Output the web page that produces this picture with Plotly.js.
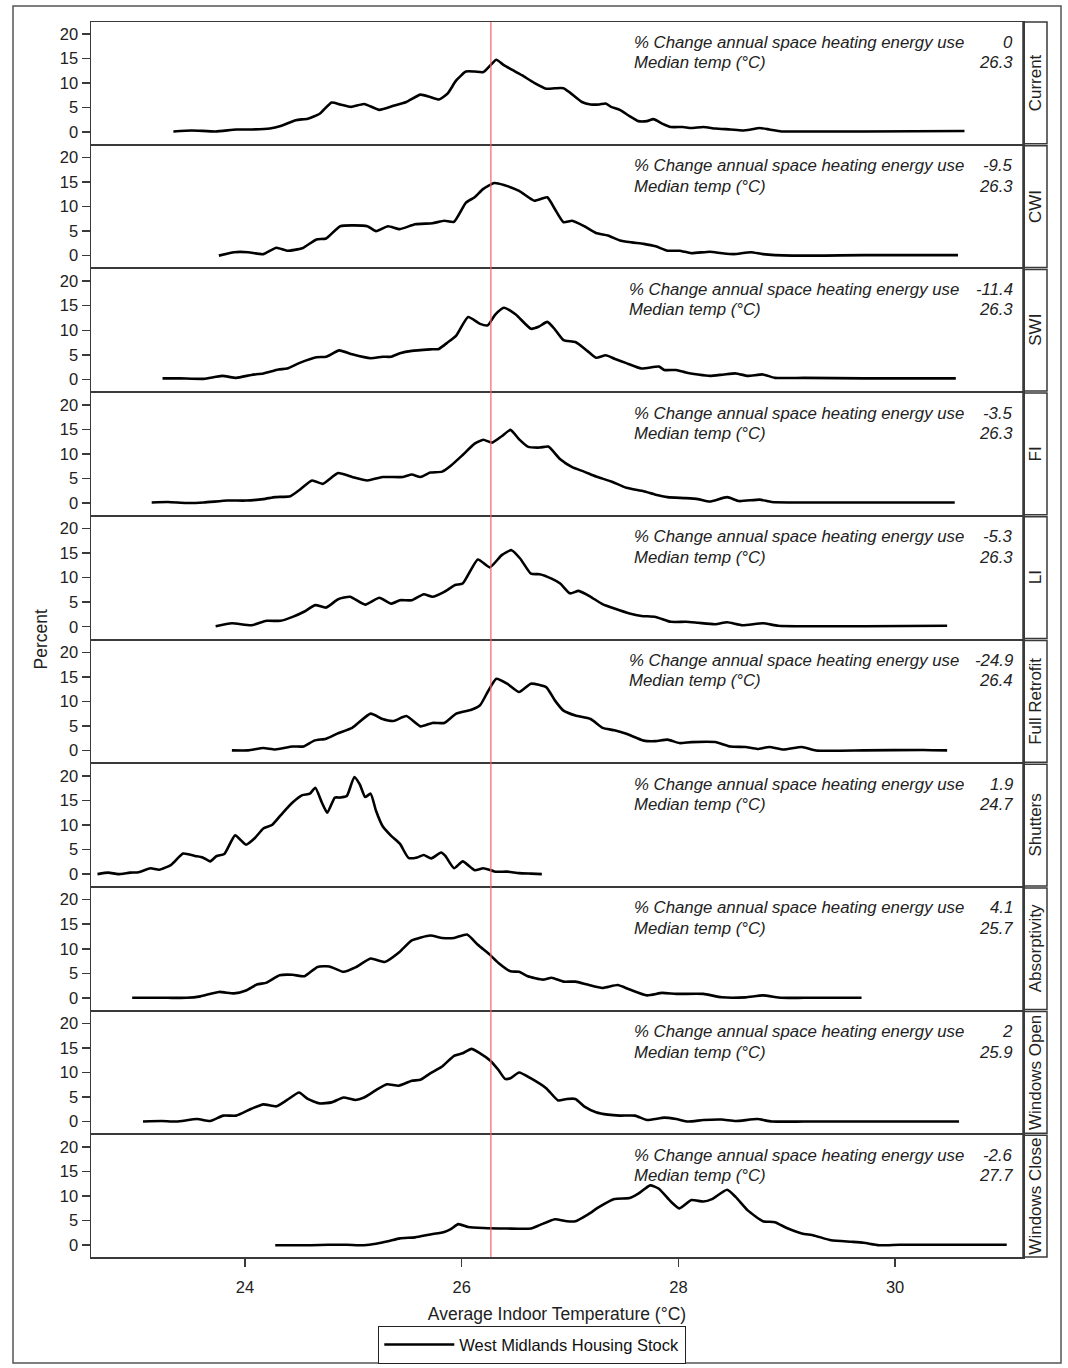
<!DOCTYPE html>
<html><head><meta charset="utf-8">
<script src="https://cdn.plot.ly/plotly-3.0.1.min.js"></script>
<style>html,body{margin:0;padding:0;background:#fff}#chart{width:1068px;height:1368px}</style>
</head><body><div id="chart"></div><script>
// ---------- DATA ----------
const scenarios = ['Current','CWI','SWI','FI','LI','Full Retrofit','Shutters','Absorptivity','Windows Open','Windows Close'];
const changeValues = ['0','-9.5','-11.4','-3.5','-5.3','-24.9','1.9','4.1','2','-2.6'];
const medianTemps = ['26.3','26.3','26.3','26.3','26.3','26.4','24.7','25.7','25.9','27.7'];
const referenceMedian = 26.27;
const xTicks = [24,26,28,30];
const yTicks = [0,5,10,15,20];
const seriesName = 'West Midlands Housing Stock';

const currentTemp = [23.34,23.51,23.73,23.92,24.06,24.23,24.33,24.47,24.58,24.69,24.80,24.88,24.98,25.10,25.24,25.38,25.49,25.62,25.71,25.79,25.87,25.95,26.04,26.12,26.20,26.27,26.32,26.39,26.48,26.56,26.67,26.78,26.86,26.94,27.00,27.11,27.19,27.27,27.33,27.38,27.46,27.55,27.63,27.71,27.77,27.85,27.93,28.04,28.12,28.23,28.34,28.48,28.59,28.67,28.75,28.84,28.95,29.16,29.71,30.64];
const currentPct = [0.1,0.3,0.1,0.5,0.5,0.7,1.2,2.4,2.7,3.7,6.0,5.6,5.1,5.7,4.5,5.4,6.1,7.6,7.1,6.6,7.8,10.5,12.3,12.3,12.2,13.7,14.7,13.6,12.5,11.5,10.0,8.8,8.9,8.9,8.0,6.1,5.6,5.6,5.8,5.1,4.5,3.2,2.2,2.2,2.6,1.7,1.0,1.0,0.8,1.0,0.7,0.5,0.3,0.5,0.8,0.5,0.1,0.1,0.1,0.2];

const cwiTemp = [23.76,23.90,24.03,24.17,24.29,24.39,24.53,24.66,24.75,24.88,25.13,25.21,25.32,25.43,25.57,25.73,25.84,25.93,26.04,26.12,26.20,26.30,26.39,26.53,26.67,26.79,26.86,26.94,27.02,27.13,27.24,27.35,27.46,27.57,27.68,27.79,27.90,28.01,28.12,28.29,28.40,28.51,28.67,28.78,29.05,29.71,30.58];
const cwiPct = [0,0.7,0.7,0.3,1.6,1.0,1.5,3.3,3.5,6.0,6.0,5.0,6.0,5.4,6.4,6.6,7.1,6.9,10.8,11.9,13.6,14.8,14.4,13.2,11.2,11.9,9.5,6.8,7.1,6.0,4.6,4.1,3.1,2.7,2.4,1.9,1.0,1.0,0.5,0.8,0.5,0.3,0.7,0.3,0.0,0.1,0.1];

const swiTemp = [23.24,23.40,23.62,23.79,23.92,24.06,24.17,24.31,24.39,24.50,24.66,24.75,24.87,24.99,25.16,25.27,25.35,25.43,25.54,25.71,25.79,25.87,25.95,26.06,26.17,26.24,26.31,26.39,26.50,26.64,26.71,26.79,26.86,26.94,27.05,27.16,27.24,27.33,27.41,27.52,27.66,27.82,27.87,27.98,28.07,28.18,28.29,28.42,28.53,28.64,28.78,28.89,29.16,29.71,30.56];
const swiPct = [0.2,0.2,0.1,0.7,0.3,0.9,1.2,2.0,2.2,3.3,4.5,4.6,5.9,5.1,4.3,4.6,4.6,5.3,5.8,6.1,6.2,7.5,8.9,12.7,11.3,11.0,13.2,14.6,13.2,10.3,10.7,11.7,10.2,8.0,7.6,5.8,4.4,4.9,4.2,3.3,2.2,2.6,1.9,1.9,1.4,1.0,0.7,1.0,1.2,0.7,1.0,0.3,0.3,0.2,0.2];

const fiTemp = [23.14,23.29,23.46,23.62,23.84,24.01,24.17,24.28,24.42,24.50,24.62,24.72,24.86,24.99,25.13,25.27,25.46,25.54,25.62,25.71,25.82,25.90,26.01,26.12,26.20,26.28,26.37,26.45,26.53,26.61,26.72,26.80,26.91,27.02,27.13,27.24,27.38,27.52,27.68,27.79,27.90,28.07,28.18,28.29,28.45,28.56,28.75,28.86,29.16,29.71,30.55];
const fiPct = [0.1,0.2,0.0,0.1,0.5,0.5,0.8,1.2,1.4,2.6,4.6,3.9,6.1,5.3,4.6,5.3,5.3,5.8,5.3,6.2,6.4,7.6,9.8,12.1,12.9,12.3,13.6,14.9,13.0,11.5,11.3,11.5,8.9,7.3,6.4,5.4,4.4,3.1,2.4,1.7,1.2,1.0,0.8,0.3,1.2,0.4,0.7,0.2,0.1,0.1,0.1];

const liTemp = [23.73,23.88,24.06,24.20,24.33,24.44,24.55,24.65,24.75,24.86,24.97,25.11,25.24,25.35,25.43,25.54,25.65,25.73,25.84,25.94,26.01,26.15,26.26,26.37,26.46,26.54,26.64,26.72,26.83,26.91,27.00,27.08,27.19,27.30,27.41,27.55,27.66,27.79,27.93,28.07,28.18,28.34,28.45,28.59,28.78,28.92,29.16,29.71,30.48];
const liPct = [0.1,0.7,0.3,1.2,1.2,2.0,3.1,4.4,3.9,5.6,6.1,4.5,5.9,4.7,5.4,5.4,6.6,6.1,7.1,8.5,8.8,13.7,12.1,14.6,15.6,13.9,10.8,10.7,9.8,8.8,6.8,7.3,6.1,4.6,3.7,2.7,2.2,2.0,1.0,1.0,0.8,0.5,0.9,0.3,0.7,0.2,0.1,0.1,0.2];

const fullRetrofitTemp = [23.88,24.03,24.17,24.28,24.44,24.54,24.64,24.75,24.86,24.99,25.16,25.27,25.37,25.49,25.62,25.73,25.84,25.95,26.09,26.17,26.24,26.32,26.42,26.53,26.64,26.78,26.86,26.94,27.05,27.19,27.30,27.41,27.52,27.68,27.79,27.90,28.01,28.12,28.34,28.48,28.62,28.73,28.84,28.97,29.14,29.27,29.71,30.26,30.48];
const fullRetrofitPct = [0.0,0.0,0.5,0.2,0.8,0.8,2.0,2.4,3.5,4.6,7.5,6.4,6.0,7.0,4.9,5.6,5.6,7.5,8.3,9.2,11.9,14.6,13.6,11.9,13.6,12.9,10.2,8.1,7.1,6.4,4.6,4.1,3.4,2.0,1.9,2.2,1.5,1.7,1.7,0.8,0.7,0.3,0.7,0.2,0.7,0.0,0.0,0.1,0.0];

const shuttersTemp = [22.64,22.74,22.83,22.94,23.02,23.13,23.21,23.32,23.43,23.54,23.61,23.68,23.74,23.81,23.91,24.01,24.09,24.17,24.25,24.35,24.44,24.53,24.60,24.65,24.71,24.76,24.83,24.88,24.94,25.01,25.06,25.11,25.16,25.21,25.27,25.35,25.43,25.51,25.59,25.65,25.72,25.81,25.85,25.93,26.01,26.12,26.20,26.31,26.42,26.53,26.64,26.74];
const shuttersPct = [0.0,0.3,0.0,0.3,0.4,1.2,0.9,1.9,4.2,3.7,3.4,2.6,3.7,4.1,7.9,6.0,7.3,9.3,10.0,12.5,14.6,16.1,16.4,17.6,14.6,12.5,15.6,15.6,15.9,19.8,18.3,15.7,16.4,12.9,9.8,7.8,6.2,3.3,3.4,3.9,3.2,4.4,3.7,1.2,2.6,0.8,1.2,0.5,0.5,0.2,0.1,0.0];

const absorptivityTemp = [22.96,23.13,23.29,23.46,23.59,23.76,23.90,24.01,24.11,24.20,24.32,24.44,24.55,24.67,24.78,24.91,25.02,25.16,25.29,25.43,25.54,25.71,25.82,25.93,26.05,26.15,26.26,26.34,26.45,26.53,26.61,26.75,26.83,26.94,27.05,27.16,27.30,27.44,27.55,27.71,27.85,27.98,28.23,28.40,28.62,28.78,28.95,29.16,29.69];
const absorptivityPct = [0,0,0,0,0.3,1.2,0.9,1.5,2.7,3.1,4.6,4.7,4.4,6.3,6.4,5.3,6.2,8.0,7.3,9.4,11.7,12.7,12.2,12.2,12.9,10.8,8.8,7.1,5.4,5.3,4.4,3.7,4.1,3.3,3.3,2.7,2.0,2.6,1.7,0.5,1.0,0.8,0.8,0.1,0.1,0.5,0.0,0.0,0.0];

const windowsOpenTemp = [23.06,23.23,23.37,23.56,23.68,23.80,23.92,24.06,24.17,24.29,24.39,24.50,24.58,24.69,24.80,24.91,25.02,25.10,25.21,25.31,25.42,25.54,25.62,25.71,25.82,25.93,26.01,26.09,26.17,26.26,26.34,26.40,26.45,26.53,26.64,26.78,26.89,26.97,27.05,27.13,27.24,27.35,27.46,27.60,27.71,27.87,27.98,28.09,28.23,28.40,28.53,28.73,28.86,29.16,29.71,30.59];
const windowsOpenPct = [0,0.1,0,0.5,0.1,1.2,1.2,2.6,3.5,3.1,4.4,5.9,4.6,3.7,3.9,4.9,4.4,4.9,6.4,7.6,7.3,8.3,8.5,9.8,11.2,13.4,13.9,14.8,13.9,12.5,10.5,8.7,8.8,10.0,8.8,6.8,4.3,4.6,4.6,3.1,1.9,1.4,1.2,1.2,0.3,0.8,0.5,0.0,0.3,0.4,0.1,0.5,0.0,0.0,0.0,0.0];

const windowsCloseTemp = [24.28,24.44,24.61,24.77,24.94,25.10,25.21,25.32,25.43,25.57,25.71,25.84,25.90,25.97,26.06,26.20,26.42,26.64,26.72,26.86,26.97,27.05,27.16,27.27,27.41,27.55,27.63,27.74,27.82,27.93,28.01,28.12,28.23,28.31,28.45,28.53,28.64,28.78,28.89,29.00,29.14,29.25,29.41,29.60,29.71,29.85,30.04,30.32,30.54,31.03];
const windowsClosePct = [0.0,0.0,0.0,0.1,0.1,0.0,0.3,0.8,1.4,1.6,2.2,2.7,3.3,4.3,3.7,3.5,3.4,3.4,4.1,5.3,4.9,4.9,6.2,7.8,9.4,9.6,10.5,12.2,11.5,8.9,7.5,9.2,8.9,9.4,11.3,9.8,7.1,4.9,4.7,3.5,2.4,2.0,1.0,0.7,0.5,0.0,0.1,0.1,0.1,0.1];

const temps = [currentTemp,cwiTemp,swiTemp,fiTemp,liTemp,fullRetrofitTemp,shuttersTemp,absorptivityTemp,windowsOpenTemp,windowsCloseTemp];
const pcts = [currentPct,cwiPct,swiPct,fiPct,liPct,fullRetrofitPct,shuttersPct,absorptivityPct,windowsOpenPct,windowsClosePct];

// ---------- LAYOUT ----------
const W = 1068, H = 1368;
const L = 91, R = 1023, T = 22, B = 1257;
const PW = R - L, PH = B - T;
const px = v => (v - L) / PW;
const py = v => (B - v) / PH;
const nP = scenarios.length;
const gap = 2;
const pitch = (PH + gap) / nP;
const panelH = pitch - gap;
const FONT = 'Liberation Sans, Arial, Helvetica, sans-serif';
const INK = '#222';
const FRAME = '#3a3a3a';

const traces = [];
const layout = {
  width: W, height: H,
  margin: {l: L, r: W - R, t: T, b: H - B, autoexpand: false},
  paper_bgcolor: '#fff', plot_bgcolor: '#fff',
  font: {family: FONT, color: INK, size: 16},
  showlegend: true,
  legend: {
    orientation: 'h', x: px(378), xanchor: 'left', y: py(1326), yanchor: 'top',
    bordercolor: '#222', borderwidth: 1.3, bgcolor: '#fff',
    font: {family: FONT, size: 16.5, color: '#111'}, itemwidth: 70,
    tracegroupgap: 0
  },
  annotations: [], shapes: []
};

for (let i = 0; i < nP; i++) {
  const sfx = i === 0 ? '' : String(i + 1);
  const topPx = T + pitch * i;
  const botPx = topPx + panelH;
  const isBottom = i === nP - 1;
  traces.push({
    type: 'scatter', mode: 'lines', x: temps[i], y: pcts[i],
    xaxis: 'x' + sfx, yaxis: 'y' + sfx,
    line: {color: '#000', width: 2.6, shape: 'spline', smoothing: 0.5},
    name: seriesName, showlegend: i === 0, hoverinfo: 'skip'
  });
  layout['xaxis' + sfx] = {
    domain: [0, 1], anchor: 'y' + sfx, range: [22.58, 31.18],
    showline: true, mirror: true, linecolor: FRAME, linewidth: 1.5,
    showgrid: false, zeroline: false,
    tickvals: xTicks, ticks: isBottom ? 'outside' : '', ticklen: 8, tickwidth: 1.5, tickcolor: FRAME,
    ticklabelstandoff: 7,
    showticklabels: isBottom, tickfont: {size: 16.5, color: INK},
    matches: i === 0 ? undefined : 'x',
    title: isBottom ? {text: 'Average Indoor Temperature (°C)', font: {size: 17.5, color: INK}, standoff: 12} : undefined
  };
  layout['yaxis' + sfx] = {
    domain: [py(botPx), py(topPx)], anchor: 'x' + sfx, range: [-2.4, 22.4],
    showline: true, mirror: true, linecolor: FRAME, linewidth: 1.5,
    showgrid: false, zeroline: false,
    tickvals: yTicks, ticks: 'outside', ticklen: 8, tickwidth: 1.5, tickcolor: FRAME,
    tickfont: {size: 16.5, color: INK}
  };
  // stat text
  const shift = changeValues[i].length > 4 ? 5 : 0;
  const rows = [['% Change annual space heating energy use', changeValues[i], 20], ['Median temp (°C)', medianTemps[i], 40.5]];
  rows.forEach(([lab, val, dy]) => {
    layout.annotations.push({xref: 'paper', yref: 'paper', x: px(632 - shift), y: py(topPx + dy),
      xanchor: 'left', yanchor: 'middle', showarrow: false, text: '<i>' + lab + '</i>',
      font: {size: 16.8, color: INK}});
    layout.annotations.push({xref: 'paper', yref: 'paper', x: px(1015), y: py(topPx + dy),
      xanchor: 'right', yanchor: 'middle', showarrow: false, text: '<i>' + val + '</i>',
      font: {size: 16.8, color: INK}});
  });
  // strip
  layout.shapes.push({type: 'rect', xref: 'paper', yref: 'paper', x0: 1, x1: px(1047),
    y0: py(botPx), y1: py(topPx), line: {color: FRAME, width: 1.5}, fillcolor: 'rgba(0,0,0,0)'});
  layout.annotations.push({xref: 'paper', yref: 'paper', x: px(1035.5), y: py((topPx + botPx) / 2),
    xanchor: 'center', yanchor: 'middle', textangle: -90, showarrow: false, text: scenarios[i],
    font: {size: 17, color: INK}});
}

// reference median line
layout.shapes.push({type: 'line', xref: 'x', yref: 'paper', x0: referenceMedian, x1: referenceMedian,
  y0: 0, y1: 1, line: {color: 'rgb(240,100,100)', width: 1.2}, layer: 'above'});
// outer frame
layout.shapes.push({type: 'rect', xref: 'paper', yref: 'paper', x0: px(13), x1: px(1061), y0: py(1363), y1: py(6),
  line: {color: '#555', width: 1.5}, fillcolor: 'rgba(0,0,0,0)'});
// y title
layout.annotations.push({xref: 'paper', yref: 'paper', x: px(40), y: 0.5, xanchor: 'center', yanchor: 'middle',
  textangle: -90, showarrow: false, text: 'Percent', font: {size: 17.5, color: INK}});

Plotly.newPlot('chart', traces, layout, {staticPlot: true, displayModeBar: false});
</script></body></html>
